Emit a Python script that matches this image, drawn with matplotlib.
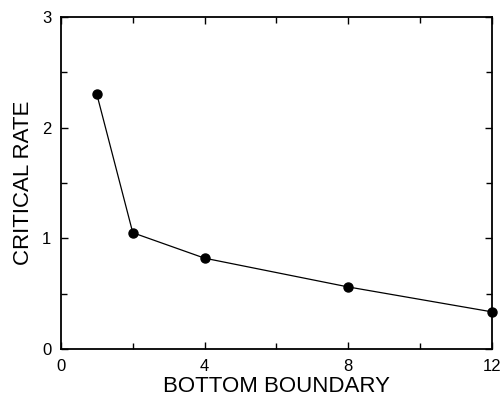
import matplotlib
matplotlib.use("Agg")
import matplotlib.pyplot as plt
from matplotlib.ticker import MultipleLocator

# values
boundary = [1, 2, 4, 8, 12]
rate     = [2.30, 1.05, 0.82, 0.56, 0.335]

plt.rcParams["font.family"] = ["Liberation Sans", "DejaVu Sans"]

fig = plt.figure(figsize=(5.02, 3.96), dpi=100)
ax = fig.add_axes([0.1215, 0.119, 0.858, 0.838])

ax.plot(boundary, rate, color="black", lw=0.9, marker="o", ms=6.5,
        clip_on=False, zorder=3)

ax.set_xlim(0, 12)
ax.set_ylim(0, 3)
ax.xaxis.set_major_locator(MultipleLocator(4))
ax.xaxis.set_minor_locator(MultipleLocator(2))
ax.yaxis.set_major_locator(MultipleLocator(1))
ax.yaxis.set_minor_locator(MultipleLocator(0.5))

ax.tick_params(which="both", direction="in", top=True, right=True,
               width=1.0, labelsize=12, pad=7)
ax.tick_params(which="major", length=5)
ax.tick_params(which="minor", length=4)
for s in ax.spines.values():
    s.set_linewidth(1.3)

ax.set_xlabel("BOTTOM BOUNDARY", fontsize=16, labelpad=2)
ax.set_ylabel("CRITICAL RATE", fontsize=16, labelpad=6)

fig.savefig("out.png", dpi=100)
